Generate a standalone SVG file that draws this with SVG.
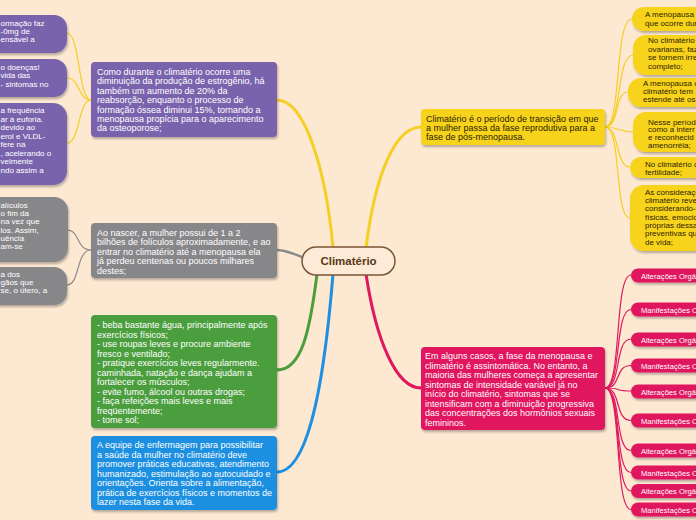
<svg xmlns="http://www.w3.org/2000/svg" width="696" height="520" viewBox="0 0 696 520">
<defs>
<filter id="sh" x="-10%" y="-10%" width="120%" height="130%">
<feDropShadow dx="1" dy="2" stdDeviation="1" flood-color="#000" flood-opacity="0.28"/>
</filter>
<style>
text{font-family:"Liberation Sans",Arial,sans-serif;}
.m{font-size:9px;fill:#fff;}
.my{font-size:9px;fill:#2a2300;}
.c{font-size:8px;fill:#fff;}
.cy{font-size:8px;fill:#2a2300;}
.p{font-size:7.6px;fill:#fff;}
.cn{fill:none;stroke-linecap:round;}
.pu{fill:#7a64ad;}
.gr{fill:#87878a;}
.gn{fill:#4c9e3d;}
.bl{fill:#1e8fe1;}
.ye{fill:#f8d31e;}
.pk{fill:#e0195e;}
</style>
</defs>
<rect width="696" height="520" fill="#fde8d2"/>

<g id="connectors">
<path class="cn" d="M333,248 C 326,170 305,100 277,100" stroke="#f5cf22" stroke-width="3"/>
<path class="cn" d="M366,248 C 375,175 395,127 421,127" stroke="#f5cf22" stroke-width="3"/>
<path class="cn" d="M302,257 C 292,253 285,250 277,250" stroke="#8a8a8d" stroke-width="2.5"/>
<path class="cn" d="M317,274 C 310,330 302,370 277,370" stroke="#4c9e3d" stroke-width="3"/>
<path class="cn" d="M333,274 C 326,360 312,472 277,472" stroke="#1e8fe1" stroke-width="3"/>
<path class="cn" d="M366,274 C 376,340 396,388 421,388" stroke="#e0195e" stroke-width="3"/>

<g stroke="#f5cf22" stroke-width="1.2" fill="none">
<path d="M91,100 C 78,100 80,33 67,33"/>
<path d="M91,100 C 78,100 80,78 67,78"/>
<path d="M91,100 C 78,100 80,143 67,143"/>
</g>
<g stroke="#8a8a8d" stroke-width="1.2" fill="none">
<path d="M91,250 C 76,250 80,230 67,230"/>
<path d="M91,250 C 76,250 80,285 67,285"/>
</g>
<g stroke="#f5cf22" stroke-width="1.2" fill="none">
<path d="M605,127 C 622,127 614,19 632,19"/>
<path d="M605,127 C 622,127 616,55 633,55"/>
<path d="M605,127 C 620,127 614,92 628,92"/>
<path d="M605,127 C 620,127 618,132 633,132"/>
<path d="M605,127 C 620,127 615,167 630,167"/>
<path d="M605,127 C 622,127 614,218 630,218"/>
</g>
<g stroke="#e0195e" stroke-width="1.2" fill="none">
<path d="M605,388 C 622,388 614,275 631,275"/>
<path d="M605,388 C 622,388 614,309.5 631,309.5"/>
<path d="M605,388 C 622,388 614,339 631,339"/>
<path d="M605,388 C 622,388 614,365.5 631,365.5"/>
<path d="M605,388 C 622,388 614,391 631,391"/>
<path d="M605,388 C 622,388 614,420.5 631,420.5"/>
<path d="M605,388 C 622,388 614,450.5 631,450.5"/>
<path d="M605,388 C 622,388 614,472.5 631,472.5"/>
<path d="M605,388 C 622,388 614,491 631,491"/>
<path d="M605,388 C 622,388 614,509.5 631,509.5"/>
</g>
</g>

<g id="center">
<rect x="302" y="247" width="93" height="28" rx="14" fill="#fdebd8" stroke="#7b5535" stroke-width="1.5"/>
<text x="348.5" y="265" text-anchor="middle" font-size="11.5" font-weight="bold" fill="#5a3717">Climatério</text>
</g>

<g id="purple-main">
<rect class="pu" x="91" y="62" width="186" height="75" rx="4" filter="url(#sh)"/>
<text class="m"><tspan x="97" y="75">Como durante o climatério ocorre uma</tspan><tspan x="97" y="84.4">diminuição da produção de estrogênio, há</tspan><tspan x="97" y="93.8">também um aumento de 20% da</tspan><tspan x="97" y="103.2">reabsorção, enquanto o processo de</tspan><tspan x="97" y="112.6">formação óssea diminui 15%, tornando a</tspan><tspan x="97" y="122">menopausa propícia para o aparecimento</tspan><tspan x="97" y="131.4">da osteoporose;</tspan></text>
</g>

<g id="purple-c1">
<rect class="pu" x="-20" y="15" width="87" height="38" rx="13" filter="url(#sh)"/>
<text class="c"><tspan x="0.5" y="25.7">ormação faz</tspan><tspan x="0.5" y="34">-0mg de</tspan><tspan x="0.5" y="42.3">ensável a</tspan></text>
</g>
<g id="purple-c2">
<rect class="pu" x="-20" y="59" width="87" height="38" rx="13" filter="url(#sh)"/>
<text class="c"><tspan x="0.5" y="69.5">o doenças!</tspan><tspan x="0.5" y="78">vida das</tspan><tspan x="0.5" y="86.5">- sintomas no</tspan></text>
</g>
<g id="purple-c3">
<rect class="pu" x="-20" y="103" width="87" height="82" rx="14" filter="url(#sh)"/>
<text class="c"><tspan x="0.5" y="113">a frequência</tspan><tspan x="0.5" y="121.5">ar à euforia.</tspan><tspan x="0.5" y="130">devido ao</tspan><tspan x="0.5" y="138.5">erol e VLDL-</tspan><tspan x="0.5" y="147">fere na</tspan><tspan x="0.5" y="155.5">, acelerando o</tspan><tspan x="0.5" y="164">velmente</tspan><tspan x="0.5" y="172.5">ndo assim a</tspan></text>
</g>

<g id="gray-main">
<rect class="gr" x="91" y="223" width="186" height="55" rx="4" filter="url(#sh)"/>
<text class="m"><tspan x="97" y="235.5">Ao nascer, a mulher possui de 1 a 2</tspan><tspan x="97" y="245">bilhões de folículos aproximadamente, e ao</tspan><tspan x="97" y="254.5">entrar no climatério até a menopausa ela</tspan><tspan x="97" y="264">já perdeu centenas ou poucos milhares</tspan><tspan x="97" y="273.5">destes;</tspan></text>
</g>
<g id="gray-c1">
<rect class="gr" x="-20" y="197" width="88" height="65" rx="14" filter="url(#sh)"/>
<text class="c"><tspan x="0.5" y="208">alículos</tspan><tspan x="0.5" y="216.2">o fim da</tspan><tspan x="0.5" y="224.4">na vez que</tspan><tspan x="0.5" y="232.6">los. Assim,</tspan><tspan x="0.5" y="240.8">uência</tspan><tspan x="0.5" y="249">am-se</tspan></text>
</g>
<g id="gray-c2">
<rect class="gr" x="-20" y="267" width="87" height="38" rx="13" filter="url(#sh)"/>
<text class="c"><tspan x="0.5" y="276.5">a dos</tspan><tspan x="0.5" y="284.5">gãos que</tspan><tspan x="0.5" y="292.5">se, o útero, a</tspan></text>
</g>

<g id="green-main">
<rect class="gn" x="91" y="315" width="186" height="113" rx="4" filter="url(#sh)"/>
<text class="m"><tspan x="97" y="328.2">- beba bastante água, principalmente após</tspan><tspan x="97" y="337.7">exercícios físicos;</tspan><tspan x="97" y="347.2">- use roupas leves e procure ambiente</tspan><tspan x="97" y="356.7">fresco e ventilado;</tspan><tspan x="97" y="366.2">- pratique exercícios leves regularmente.</tspan><tspan x="97" y="375.7">caminhada, natação e dança ajudam a</tspan><tspan x="97" y="385.2">fortalecer os músculos;</tspan><tspan x="97" y="394.7">- evite fumo, álcool ou outras drogas;</tspan><tspan x="97" y="404.2">- faça refeições mais leves e mais</tspan><tspan x="97" y="413.7">freqüentemente;</tspan><tspan x="97" y="423.2">- tome sol;</tspan></text>
</g>

<g id="blue-main">
<rect class="bl" x="91" y="436" width="186" height="74" rx="4" filter="url(#sh)"/>
<text class="m"><tspan x="97" y="448.2">A equipe de enfermagem para possibilitar</tspan><tspan x="97" y="457.7">a saúde da mulher no climatério deve</tspan><tspan x="97" y="467.2">promover práticas educativas, atendimento</tspan><tspan x="97" y="476.7">humanizado, estimulação ao autocuidado e</tspan><tspan x="97" y="486.2">orientações. Orienta sobre a alimentação,</tspan><tspan x="97" y="495.7">prática de exercícios físicos e momentos de</tspan><tspan x="97" y="505.2">lazer nesta fase da vida.</tspan></text>
</g>

<g id="yellow-main">
<rect class="ye" x="421" y="109" width="184" height="36" rx="4" filter="url(#sh)"/>
<text class="my"><tspan x="426" y="121.5">Climatério é o período de transição em que</tspan><tspan x="426" y="131">a mulher passa da fase reprodutiva para a</tspan><tspan x="426" y="140.3">fase de pós-menopausa.</tspan></text>
</g>
<g id="yellow-c1">
<rect class="ye" x="632" y="7" width="90" height="24" rx="12" filter="url(#sh)"/>
<text class="cy"><tspan x="645" y="17">A menopausa</tspan><tspan x="645" y="26">que ocorre dur</tspan></text>
</g>
<g id="yellow-c2">
<rect class="ye" x="633" y="35" width="90" height="40" rx="13" filter="url(#sh)"/>
<text class="cy"><tspan x="648" y="43">No climatério</tspan><tspan x="648" y="51.6">ovarianas, faz</tspan><tspan x="648" y="60.2">se tornem irre</tspan><tspan x="648" y="68.8">completo;</tspan></text>
</g>
<g id="yellow-c3">
<rect class="ye" x="628" y="78" width="90" height="29" rx="13" filter="url(#sh)"/>
<text class="cy"><tspan x="643" y="86.3">A menopausa o</tspan><tspan x="643" y="94.2">climatério tem</tspan><tspan x="643" y="102.1">estende até os</tspan></text>
</g>
<g id="yellow-c4">
<rect class="ye" x="633" y="112" width="90" height="40" rx="13" filter="url(#sh)"/>
<text class="cy"><tspan x="648" y="124.6">Nesse período</tspan><tspan x="648" y="132.4">como a interr</tspan><tspan x="648" y="140.2">e reconhecid</tspan><tspan x="648" y="148">amenorréia;</tspan></text>
</g>
<g id="yellow-c5">
<rect class="ye" x="630" y="157" width="90" height="21" rx="10.5" filter="url(#sh)"/>
<text class="cy"><tspan x="645" y="166.6">No climatério c</tspan><tspan x="645" y="175">fertilidade;</tspan></text>
</g>
<g id="yellow-c6">
<rect class="ye" x="630" y="185" width="90" height="66" rx="14" filter="url(#sh)"/>
<text class="cy"><tspan x="645" y="194.7">As consideraçõ</tspan><tspan x="645" y="203">climatério reve</tspan><tspan x="645" y="211.3">considerando-s</tspan><tspan x="645" y="219.6">físicas, emocio</tspan><tspan x="645" y="227.9">próprias dessa</tspan><tspan x="645" y="236.2">preventivas qu</tspan><tspan x="645" y="244.5">de vida;</tspan></text>
</g>

<g id="pink-main">
<rect class="pk" x="421" y="347" width="184" height="83" rx="4" filter="url(#sh)"/>
<text class="m"><tspan x="425" y="359">Em alguns casos, a fase da menopausa e</tspan><tspan x="425" y="368.5">climatério é assintomática. No entanto, a</tspan><tspan x="425" y="378">maioria das mulheres começa a apresentar</tspan><tspan x="425" y="387.5">sintomas de intensidade variável já no</tspan><tspan x="425" y="397">início do climatério, sintomas que se</tspan><tspan x="425" y="406.5">intensificam com a diminuição progressiva</tspan><tspan x="425" y="416">das concentrações dos hormônios sexuais</tspan><tspan x="425" y="425.5">femininos.</tspan></text>
</g>

<g id="pink-c1"><rect class="pk" x="631" y="268.5" width="90" height="14" rx="7" filter="url(#sh)"/><text class="p" x="641" y="278.5">Alterações Orgâ</text></g>
<g id="pink-c2"><rect class="pk" x="631" y="302.5" width="90" height="14" rx="7" filter="url(#sh)"/><text class="p" x="641" y="312.5">Manifestações O</text></g>
<g id="pink-c3"><rect class="pk" x="631" y="332.5" width="90" height="14" rx="7" filter="url(#sh)"/><text class="p" x="641" y="342.5">Alterações Orgâ</text></g>
<g id="pink-c4"><rect class="pk" x="631" y="358.5" width="90" height="14" rx="7" filter="url(#sh)"/><text class="p" x="641" y="368.5">Manifestações O</text></g>
<g id="pink-c5"><rect class="pk" x="631" y="384.5" width="90" height="14" rx="7" filter="url(#sh)"/><text class="p" x="641" y="394.5">Alterações Orgâ</text></g>
<g id="pink-c6"><rect class="pk" x="631" y="413.5" width="90" height="14" rx="7" filter="url(#sh)"/><text class="p" x="641" y="423.5">Manifestações O</text></g>
<g id="pink-c7"><rect class="pk" x="631" y="443.5" width="90" height="14" rx="7" filter="url(#sh)"/><text class="p" x="641" y="453.5">Alterações Orgâ</text></g>
<g id="pink-c8"><rect class="pk" x="631" y="465.5" width="90" height="14" rx="7" filter="url(#sh)"/><text class="p" x="641" y="475.5">Manifestações O</text></g>
<g id="pink-c9"><rect class="pk" x="631" y="484" width="90" height="14" rx="7" filter="url(#sh)"/><text class="p" x="641" y="494">Alterações Orgâ</text></g>
<g id="pink-c10"><rect class="pk" x="631" y="502.5" width="90" height="14" rx="7" filter="url(#sh)"/><text class="p" x="641" y="512.5">Manifestações O</text></g>
</svg>
